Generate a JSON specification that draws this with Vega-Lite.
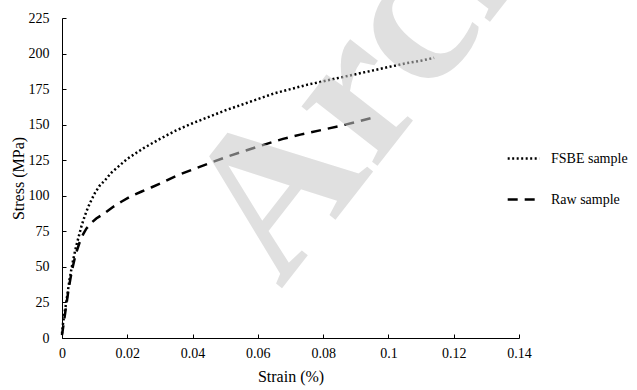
{
  "$schema": "https://vega.github.io/schema/vega-lite/v6.json",
  "width": 457,
  "height": 320,
  "autosize": {"type": "none"},
  "padding": {"left": 62, "top": 18, "right": 118, "bottom": 52},
  "background": "white",
  "config": {
    "view": {"stroke": null},
    "font": "Liberation Serif",
    "axis": {
      "grid": false,
      "domainColor": "black",
      "tickColor": "black",
      "labelColor": "black",
      "titleColor": "black",
      "titleFontWeight": "normal",
      "labelFont": "Liberation Serif",
      "titleFont": "Liberation Serif",
      "domainWidth": 1,
      "tickWidth": 1
    },
    "legend": {
      "labelColor": "black",
      "labelFont": "Liberation Serif"
    }
  },
  "encoding": {
    "x": {
      "field": "strain",
      "type": "quantitative",
      "scale": {"domain": [0, 0.14], "nice": false},
      "axis": {
        "title": "Strain (%)",
        "values": [0, 0.02, 0.04, 0.06, 0.08, 0.1, 0.12, 0.14],
        "format": ".2~f",
        "labelFontSize": 14,
        "titleFontSize": 16,
        "labelOverlap": false,
        "labelFlush": false,
        "tickSize": -4,
        "labelPadding": 12,
        "titlePadding": 8
      }
    },
    "y": {
      "field": "stress",
      "type": "quantitative",
      "scale": {"domain": [0, 225], "nice": false},
      "axis": {
        "title": "Stress (MPa)",
        "values": [0, 25, 50, 75, 100, 125, 150, 175, 200, 225],
        "labelFontSize": 14,
        "titleFontSize": 16,
        "labelOverlap": false,
        "labelFlush": false,
        "tickSize": -4,
        "labelPadding": 17,
        "titlePadding": 2
      }
    }
  },
  "layer": [
    {
      "data": {
        "values": [
          {"strain": 0, "stress": 3, "sample": "FSBE sample"},
          {"strain": 0.0003, "stress": 10, "sample": "FSBE sample"},
          {"strain": 0.0008, "stress": 18, "sample": "FSBE sample"},
          {"strain": 0.0013, "stress": 25, "sample": "FSBE sample"},
          {"strain": 0.0018, "stress": 33, "sample": "FSBE sample"},
          {"strain": 0.0023, "stress": 41, "sample": "FSBE sample"},
          {"strain": 0.003, "stress": 50, "sample": "FSBE sample"},
          {"strain": 0.0037, "stress": 58, "sample": "FSBE sample"},
          {"strain": 0.0044, "stress": 65, "sample": "FSBE sample"},
          {"strain": 0.0052, "stress": 72, "sample": "FSBE sample"},
          {"strain": 0.006, "stress": 79, "sample": "FSBE sample"},
          {"strain": 0.007, "stress": 86, "sample": "FSBE sample"},
          {"strain": 0.008, "stress": 92, "sample": "FSBE sample"},
          {"strain": 0.009, "stress": 97, "sample": "FSBE sample"},
          {"strain": 0.0101, "stress": 102, "sample": "FSBE sample"},
          {"strain": 0.0115, "stress": 107, "sample": "FSBE sample"},
          {"strain": 0.0132, "stress": 111, "sample": "FSBE sample"},
          {"strain": 0.015, "stress": 116, "sample": "FSBE sample"},
          {"strain": 0.0175, "stress": 121, "sample": "FSBE sample"},
          {"strain": 0.02, "stress": 126, "sample": "FSBE sample"},
          {"strain": 0.025, "stress": 133.5, "sample": "FSBE sample"},
          {"strain": 0.03, "stress": 140, "sample": "FSBE sample"},
          {"strain": 0.035, "stress": 146, "sample": "FSBE sample"},
          {"strain": 0.04, "stress": 151, "sample": "FSBE sample"},
          {"strain": 0.045, "stress": 155.5, "sample": "FSBE sample"},
          {"strain": 0.05, "stress": 160, "sample": "FSBE sample"},
          {"strain": 0.055, "stress": 164, "sample": "FSBE sample"},
          {"strain": 0.06, "stress": 168, "sample": "FSBE sample"},
          {"strain": 0.065, "stress": 172, "sample": "FSBE sample"},
          {"strain": 0.07, "stress": 175, "sample": "FSBE sample"},
          {"strain": 0.075, "stress": 178, "sample": "FSBE sample"},
          {"strain": 0.08, "stress": 180.5, "sample": "FSBE sample"},
          {"strain": 0.085, "stress": 183, "sample": "FSBE sample"},
          {"strain": 0.09, "stress": 185.5, "sample": "FSBE sample"},
          {"strain": 0.095, "stress": 188, "sample": "FSBE sample"},
          {"strain": 0.1, "stress": 190.5, "sample": "FSBE sample"},
          {"strain": 0.105, "stress": 193, "sample": "FSBE sample"},
          {"strain": 0.11, "stress": 195, "sample": "FSBE sample"},
          {"strain": 0.114, "stress": 197, "sample": "FSBE sample"},
          {"strain": 0, "stress": 2, "sample": "Raw sample"},
          {"strain": 0.0005, "stress": 10, "sample": "Raw sample"},
          {"strain": 0.001, "stress": 18, "sample": "Raw sample"},
          {"strain": 0.0015, "stress": 26, "sample": "Raw sample"},
          {"strain": 0.002, "stress": 34, "sample": "Raw sample"},
          {"strain": 0.0026, "stress": 42, "sample": "Raw sample"},
          {"strain": 0.0032, "stress": 49, "sample": "Raw sample"},
          {"strain": 0.0038, "stress": 55, "sample": "Raw sample"},
          {"strain": 0.0045, "stress": 61, "sample": "Raw sample"},
          {"strain": 0.0055, "stress": 68, "sample": "Raw sample"},
          {"strain": 0.0065, "stress": 73, "sample": "Raw sample"},
          {"strain": 0.0075, "stress": 77, "sample": "Raw sample"},
          {"strain": 0.009, "stress": 81, "sample": "Raw sample"},
          {"strain": 0.0105, "stress": 84, "sample": "Raw sample"},
          {"strain": 0.0132, "stress": 88, "sample": "Raw sample"},
          {"strain": 0.0155, "stress": 92, "sample": "Raw sample"},
          {"strain": 0.0183, "stress": 96, "sample": "Raw sample"},
          {"strain": 0.021, "stress": 99.5, "sample": "Raw sample"},
          {"strain": 0.0244, "stress": 103, "sample": "Raw sample"},
          {"strain": 0.0275, "stress": 106, "sample": "Raw sample"},
          {"strain": 0.0305, "stress": 109, "sample": "Raw sample"},
          {"strain": 0.035, "stress": 114, "sample": "Raw sample"},
          {"strain": 0.04, "stress": 118.5, "sample": "Raw sample"},
          {"strain": 0.0453, "stress": 123, "sample": "Raw sample"},
          {"strain": 0.05, "stress": 127, "sample": "Raw sample"},
          {"strain": 0.0566, "stress": 132, "sample": "Raw sample"},
          {"strain": 0.062, "stress": 136, "sample": "Raw sample"},
          {"strain": 0.0677, "stress": 140, "sample": "Raw sample"},
          {"strain": 0.073, "stress": 143, "sample": "Raw sample"},
          {"strain": 0.079, "stress": 146, "sample": "Raw sample"},
          {"strain": 0.085, "stress": 149, "sample": "Raw sample"},
          {"strain": 0.0903, "stress": 152, "sample": "Raw sample"},
          {"strain": 0.0953, "stress": 155, "sample": "Raw sample"}
        ]
      },
      "mark": {"type": "line", "color": "black", "strokeWidth": 2.5},
      "encoding": {
        "strokeDash": {
          "field": "sample",
          "type": "nominal",
          "scale": {
            "domain": ["FSBE sample", "Raw sample"],
            "range": [[2, 2.5], [10, 7]]
          },
          "legend": {
            "title": null,
            "orient": "none",
            "legendX": 444,
            "legendY": 123,
            "symbolType": "stroke",
            "symbolSize": 1000,
            "symbolStrokeColor": "black",
            "symbolStrokeWidth": 2.5,
            "rowPadding": 16,
            "labelOffset": 10,
            "padding": 0,
            "labelFontSize": 14
          }
        }
      }
    },
    {
      "data": {"values": [{"strain": 0.067, "stress": 34, "label": "Archive"}]},
      "mark": {
        "type": "text",
        "font": "Liberation Serif",
        "fontSize": 210,
        "fontWeight": "bold",
        "angle": -52,
        "align": "left",
        "baseline": "alphabetic",
        "fill": "#c8c8c8",
        "opacity": 0.56
      },
      "encoding": {
        "text": {"field": "label", "type": "nominal"}
      }
    }
  ]
}
